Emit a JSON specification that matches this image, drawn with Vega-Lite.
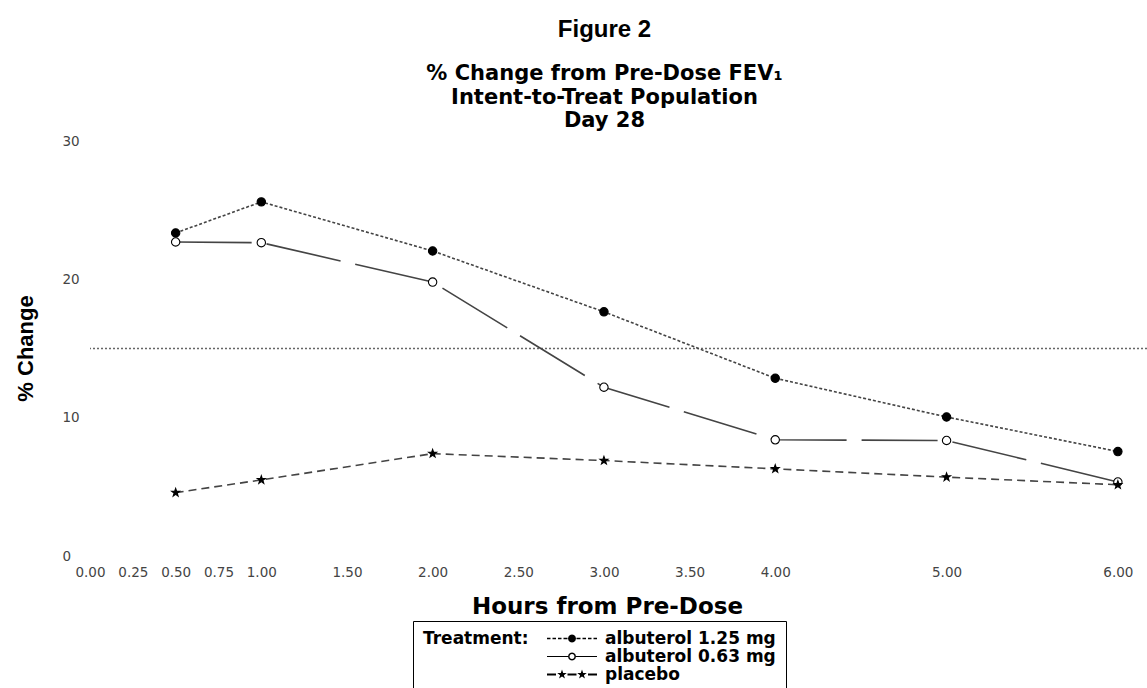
{
  "$schema": "https://vega.github.io/schema/vega-lite/v6.json",
  "width": 1057,
  "height": 415,
  "autosize": {"type": "none"},
  "padding": {"left": 90, "top": 141, "right": 0, "bottom": 132},
  "background": "white",
  "title": {
    "text": "Figure 2",
    "subtitle": ["% Change from Pre-Dose FEV₁", "Intent-to-Treat Population", "Day 28"],
    "anchor": "middle",
    "dx": -14,
    "font": "Liberation Sans",
    "fontSize": 24,
    "fontWeight": "bold",
    "color": "black",
    "subtitleFont": "DejaVu Sans",
    "subtitleFontSize": 21,
    "subtitleFontWeight": "bold",
    "subtitleColor": "black",
    "subtitleLineHeight": 23.5,
    "subtitlePadding": 21,
    "offset": 3
  },
  "data": {
    "values": [
      {"hour": 0.5, "pct": 23.35, "treatment": "albuterol 1.25 mg"},
      {"hour": 1, "pct": 25.6, "treatment": "albuterol 1.25 mg"},
      {"hour": 2, "pct": 22.05, "treatment": "albuterol 1.25 mg"},
      {"hour": 3, "pct": 17.65, "treatment": "albuterol 1.25 mg"},
      {"hour": 4, "pct": 12.85, "treatment": "albuterol 1.25 mg"},
      {"hour": 5, "pct": 10.05, "treatment": "albuterol 1.25 mg"},
      {"hour": 6, "pct": 7.55, "treatment": "albuterol 1.25 mg"},
      {"hour": 0.5, "pct": 22.7, "treatment": "albuterol 0.63 mg"},
      {"hour": 1, "pct": 22.65, "treatment": "albuterol 0.63 mg"},
      {"hour": 2, "pct": 19.8, "treatment": "albuterol 0.63 mg"},
      {"hour": 3, "pct": 12.2, "treatment": "albuterol 0.63 mg"},
      {"hour": 4, "pct": 8.4, "treatment": "albuterol 0.63 mg"},
      {"hour": 5, "pct": 8.35, "treatment": "albuterol 0.63 mg"},
      {"hour": 6, "pct": 5.35, "treatment": "albuterol 0.63 mg"},
      {"hour": 0.5, "pct": 4.58, "treatment": "placebo"},
      {"hour": 1, "pct": 5.5, "treatment": "placebo"},
      {"hour": 2, "pct": 7.4, "treatment": "placebo"},
      {"hour": 3, "pct": 6.9, "treatment": "placebo"},
      {"hour": 4, "pct": 6.3, "treatment": "placebo"},
      {"hour": 5, "pct": 5.7, "treatment": "placebo"},
      {"hour": 6, "pct": 5.15, "treatment": "placebo"}
    ]
  },
  "resolve": {"scale": {"shape": "independent"}},
  "layer": [
    {
      "data": {"values": [{"pct": 15}]},
      "mark": {"type": "rule", "color": "#666", "strokeDash": [2, 2], "strokeWidth": 1.5},
      "encoding": {
        "y": {"field": "pct", "type": "quantitative", "scale": {"domain": [0, 30], "nice": false}, "title": "% Change"}
      }
    },
    {
      "mark": {"type": "line", "color": "#444", "strokeWidth": 1.6},
      "encoding": {
        "x": {
          "field": "hour", "type": "quantitative",
          "scale": {"domain": [0, 6.17], "nice": false, "zero": false},
          "axis": {
            "values": [0, 0.25, 0.5, 0.75, 1, 1.5, 2, 2.5, 3, 3.5, 4, 5, 6],
            "format": ".2f",
            "labelPadding": 9,
            "labelFlush": false,
            "labelOverlap": false,
            "title": "Hours from Pre-Dose",
            "titleFont": "DejaVu Sans",
            "titleFontSize": 23,
            "titleFontWeight": "bold",
            "titleColor": "black",
            "titleX": 517,
            "titleY": 57,
            "titleBaseline": "alphabetic"
          }
        },
        "y": {
          "field": "pct", "type": "quantitative",
          "scale": {"domain": [0, 30], "nice": false},
          "title": "% Change",
          "axis": {
            "values": [0, 10, 20, 30],
            "labelAlign": "left",
            "labelBaseline": "middle",
            "labelPadding": 28,
            "title": "% Change",
            "titleFont": "Liberation Sans",
            "titleFontSize": 22,
            "titleFontWeight": "bold",
            "titleColor": "black",
            "titleAngle": 270,
            "titleX": -58,
            "titleY": 207,
            "titleAlign": "center",
            "titleBaseline": "alphabetic"
          }
        },
        "strokeDash": {
          "field": "treatment", "type": "nominal",
          "scale": {
            "domain": ["albuterol 1.25 mg", "albuterol 0.63 mg", "placebo"],
            "range": [[3, 2], [76, 15], [8, 5]]
          },
          "legend": null
        }
      }
    },
    {
      "mark": {"type": "point", "filled": true, "stroke": "black", "strokeWidth": 1.1, "opacity": 1, "size": 70},
      "encoding": {
        "x": {"field": "hour", "type": "quantitative"},
        "y": {"field": "pct", "type": "quantitative", "title": "% Change"},
        "shape": {
          "field": "treatment", "type": "nominal",
          "scale": {
            "domain": ["albuterol 1.25 mg", "albuterol 0.63 mg", "placebo"],
            "range": ["circle", "circle", "M0,-1L0.235,-0.324L0.951,-0.309L0.38,0.124L0.588,0.809L0,0.4L-0.588,0.809L-0.38,0.124L-0.951,-0.309L-0.235,-0.324Z"]
          },
          "legend": null
        },
        "fill": {
          "field": "treatment", "type": "nominal",
          "scale": {
            "domain": ["albuterol 1.25 mg", "albuterol 0.63 mg", "placebo"],
            "range": ["black", "white", "black"]
          },
          "legend": null
        }
      }
    },
    {
      "mark": {"type": "point", "filled": true, "color": "black", "strokeWidth": 0, "opacity": 0},
      "encoding": {
        "x": {"field": "hour", "type": "quantitative"},
        "y": {"field": "pct", "type": "quantitative", "title": "% Change"},
        "shape": {
          "field": "treatment", "type": "nominal",
          "scale": {
            "domain": ["albuterol 1.25 mg", "albuterol 0.63 mg", "placebo"],
            "range": [
              "M-1,-0.03L-0.86,-0.03L-0.86,0.03L-1,0.03ZM-0.78,-0.03L-0.64,-0.03L-0.64,0.03L-0.78,0.03ZM-0.56,-0.03L-0.42,-0.03L-0.42,0.03L-0.56,0.03ZM-0.34,-0.03L-0.18,-0.03L-0.18,0.03L-0.34,0.03ZM0.18,-0.03L0.34,-0.03L0.34,0.03L0.18,0.03ZM0.42,-0.03L0.56,-0.03L0.56,0.03L0.42,0.03ZM0.64,-0.03L0.78,-0.03L0.78,0.03L0.64,0.03ZM0.86,-0.03L1,-0.03L1,0.03L0.86,0.03ZM0.16,0L0.139,0.08L0.08,0.139L0,0.16L-0.08,0.139L-0.139,0.08L-0.16,0L-0.139,-0.08L-0.08,-0.139L0,-0.16L0.08,-0.139L0.139,-0.08Z",
              "M-1,-0.02L-0.16,-0.02L-0.16,0.02L-1,0.02ZM0.16,-0.02L1,-0.02L1,0.02L0.16,0.02ZM0.16,0L0.139,0.08L0.08,0.139L0,0.16L-0.08,0.139L-0.139,0.08L-0.16,0L-0.139,-0.08L-0.08,-0.139L0,-0.16L0.08,-0.139L0.139,-0.08ZM0.1,0L0.087,-0.05L0.05,-0.087L0,-0.1L-0.05,-0.087L-0.087,-0.05L-0.1,0L-0.087,0.05L-0.05,0.087L0,0.1L0.05,0.087L0.087,0.05Z",
              "M-1,-0.04L-0.64,-0.04L-0.64,0.04L-1,0.04ZM-0.18,-0.04L0.18,-0.04L0.18,0.04L-0.18,0.04ZM0.64,-0.04L1,-0.04L1,0.04L0.64,0.04ZM-0.4,-0.2L-0.353,-0.065L-0.21,-0.062L-0.324,0.025L-0.282,0.162L-0.4,0.08L-0.518,0.162L-0.476,0.025L-0.59,-0.062L-0.447,-0.065ZM0.4,-0.2L0.447,-0.065L0.59,-0.062L0.476,0.025L0.518,0.162L0.4,0.08L0.282,0.162L0.324,0.025L0.21,-0.062L0.353,-0.065Z"
            ]
          },
          "legend": {
            "orient": "none",
            "legendX": 323,
            "legendY": 480,
            "title": "Treatment:",
            "titleOrient": "left",
            "titleAnchor": "start",
            "titleBaseline": "top",
            "titleFont": "DejaVu Sans",
            "titleFontSize": 17,
            "titleFontWeight": "bold",
            "titleColor": "black",
            "titlePadding": 18,
            "labelFont": "DejaVu Sans",
            "labelFontSize": 17,
            "labelFontWeight": "bold",
            "labelColor": "black",
            "labelOffset": 8,
            "labelLimit": 300,
            "symbolSize": 2500,
            "symbolOpacity": 1,
            "symbolFillColor": "black",
            "symbolStrokeWidth": 0,
            "clipHeight": 15,
            "rowPadding": 0,
            "strokeColor": "black",
            "padding": 10
          }
        }
      }
    }
  ],
  "config": {
    "view": {"stroke": null},
    "axis": {
      "domain": false,
      "ticks": false,
      "grid": false,
      "labelFont": "DejaVu Sans",
      "labelFontSize": 13.5,
      "labelColor": "#444"
    }
  }
}
